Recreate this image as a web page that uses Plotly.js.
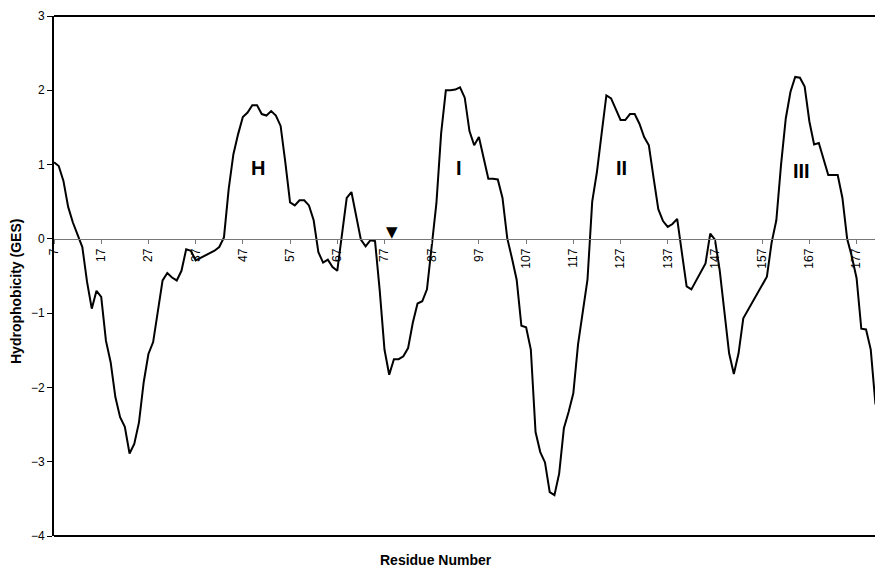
<!DOCTYPE html>
<html>
<head>
<meta charset="utf-8">
<script src="https://cdn.plot.ly/plotly-3.0.1.min.js"></script>
<style>html,body{margin:0;padding:0;background:#fff}#chart{width:875px;height:568px}</style>
</head>
<body>
<div id="chart"></div>
<script>
// Residue numbers
const residues = [];
for (let r = 7; r <= 181; r++) residues.push(r);

// Hydrophobicity (GES) values, residues 7..181
const hydrophobicity = [
  1.03, 0.98, 0.78, 0.43, 0.22, 0.04, -0.11, -0.58, -0.94, -0.70,      // 7-16
  -0.78, -1.37, -1.66, -2.13, -2.40, -2.53, -2.89, -2.76, -2.47, -1.93, // 17-26
  -1.55, -1.39, -0.99, -0.56, -0.46, -0.52, -0.56, -0.43, -0.14, -0.16, // 27-36
  -0.29, -0.26, -0.22, -0.19, -0.16, -0.11, 0.02, 0.67, 1.14, 1.41,     // 37-46
  1.64, 1.70, 1.80, 1.80, 1.68, 1.66, 1.72, 1.66, 1.52, 1.03,           // 47-56
  0.49, 0.45, 0.52, 0.52, 0.45, 0.25, -0.18, -0.32, -0.28, -0.38,       // 57-66
  -0.43, 0.06, 0.55, 0.63, 0.30, -0.01, -0.10, -0.02, -0.03, -0.70,     // 67-76
  -1.49, -1.83, -1.62, -1.62, -1.58, -1.47, -1.13, -0.87, -0.84, -0.68, // 77-86
  -0.10, 0.48, 1.42, 2.00, 2.00, 2.01, 2.04, 1.90, 1.45, 1.26,          // 87-96
  1.37, 1.09, 0.81, 0.81, 0.80, 0.55, 0.01, -0.26, -0.55, -1.17,        // 97-106
  -1.19, -1.49, -2.60, -2.87, -3.01, -3.41, -3.45, -3.16, -2.55, -2.33, // 107-116
  -2.08, -1.42, -0.98, -0.55, 0.50, 0.90, 1.42, 1.93, 1.89, 1.75,       // 117-126
  1.60, 1.60, 1.68, 1.68, 1.55, 1.37, 1.26, 0.82, 0.40, 0.24,           // 127-136
  0.16, 0.20, 0.27, -0.19, -0.64, -0.68, -0.57, -0.44, -0.33, 0.07,     // 137-146
  -0.01, -0.42, -0.96, -1.54, -1.82, -1.54, -1.07, -0.96, -0.86, -0.75, // 147-156
  -0.64, -0.51, -0.05, 0.25, 1.00, 1.62, 1.98, 2.18, 2.17, 2.05,        // 157-166
  1.58, 1.27, 1.29, 1.09, 0.86, 0.86, 0.86, 0.55, 0.00, -0.24,          // 167-176
  -0.53, -1.21, -1.22, -1.49, -2.23                                     // 177-181
];

// Tick labels
const xTickVals = [7, 17, 27, 37, 47, 57, 67, 77, 87, 97, 107, 117, 127, 137, 147, 157, 167, 177];
const xTickText = xTickVals.map(String);
const yTickVals = [-4, -3, -2, -1, 0, 1, 2, 3];

// Region labels
const regionLabels = ["H", "I", "II", "III"];
const regionX = [50.2, 92.8, 127.3, 165.4];
const regionY = [0.96, 0.96, 0.96, 0.92];
const markerLabel = "\u25BC";
const markerX = 78.6;
const markerY = 0.09;

const font = "Arial, 'Liberation Sans', sans-serif";

const trace = {
  x: residues,
  y: hydrophobicity,
  type: 'scatter',
  mode: 'lines',
  line: {color: '#000', width: 2},
  hoverinfo: 'x+y'
};

const annotations = regionLabels.map((t, i) => ({
  x: regionX[i], y: regionY[i], xref: 'x', yref: 'y',
  text: '<b>' + t + '</b>', showarrow: false,
  font: {family: font, size: 20, color: '#000'}
}));
annotations.push({
  x: markerX, y: markerY, xref: 'x', yref: 'y',
  text: markerLabel, showarrow: false,
  font: {family: "'DejaVu Sans', sans-serif", size: 15, color: '#000'}
});
annotations.push({
  x: -0.047, y: 0.47, xref: 'paper', yref: 'paper',
  xanchor: 'center', yanchor: 'middle',
  text: '<b>Hydrophobicity (GES)</b>', showarrow: false, textangle: -90,
  font: {family: font, size: 14, color: '#000'}
});
annotations.push({
  x: 0.465, y: -0.046, xref: 'paper', yref: 'paper',
  xanchor: 'center', yanchor: 'middle',
  text: '<b>Residue Number</b>', showarrow: false,
  font: {family: font, size: 14, color: '#000'}
});

const layout = {
  width: 875, height: 568,
  margin: {l: 54, r: 0, t: 16, b: 32, pad: 0},
  paper_bgcolor: '#fff', plot_bgcolor: '#fff',
  showlegend: false,
  xaxis: {
    range: [7, 180.9],
    anchor: 'free', position: 4 / 7,
    showgrid: false, zeroline: false,
    showline: true, linecolor: '#777', linewidth: 1,
    ticks: 'outside', ticklen: 4, tickcolor: '#777', tickwidth: 1,
    tickmode: 'array', tickvals: xTickVals, ticktext: xTickText,
    tickangle: -90,
    tickfont: {family: font, size: 12, color: '#000'}
  },
  yaxis: {
    range: [-4, 3],
    showgrid: false, zeroline: false,
    showline: true, linecolor: '#000', linewidth: 2,
    ticks: 'outside', ticklen: 5, tickcolor: '#000', tickwidth: 1,
    tickmode: 'array', tickvals: yTickVals,
    tickfont: {family: font, size: 12, color: '#000'}
  },
  shapes: [
    {type: 'line', xref: 'paper', yref: 'paper', x0: 0, x1: 1, y0: 1, y1: 1, line: {color: '#000', width: 2}},
    {type: 'line', xref: 'paper', yref: 'paper', x0: 0, x1: 1, y0: 0, y1: 0, line: {color: '#000', width: 2}}
  ],
  annotations: annotations
};

Plotly.newPlot('chart', [trace], layout, {displayModeBar: false, staticPlot: true});
</script>
</body>
</html>
